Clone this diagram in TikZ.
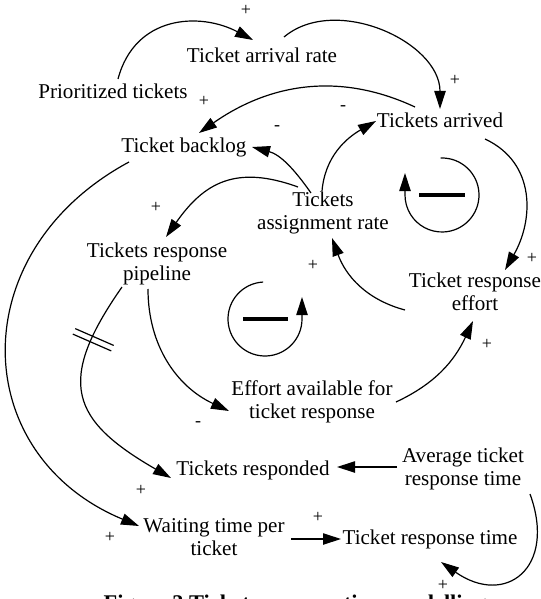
\documentclass[tikz,border=0pt]{standalone}
\usepackage{fontspec}
\setmainfont{Liberation Serif}
\usetikzlibrary{arrows.meta,decorations.markings}
\begin{document}
\begin{tikzpicture}[x=0.75pt,y=0.75pt,
  var/.style={font=\fontsize{15.8}{17.4}\selectfont, align=center, inner sep=0pt},
  sign/.style={font=\fontsize{13.5}{15}\selectfont, inner sep=0pt},
  link/.style={line width=0.9pt, -{Triangle[length=13.5pt,width=8.5pt]}},
  loopline/.style={line width=0.9pt},
  loopbar/.style={line width=2.4pt},
  caption/.style={font=\bfseries\fontsize{16.8}{20}\selectfont, anchor=base, inner sep=0pt}]
\useasboundingbox (0,0) rectangle (540,-599);

% variables
\node[var] (TAR)  at (262,-55)  {Ticket arrival rate};
\node[var] (PT)   at (113,-91)  {Prioritized tickets};
\node[var] (TA)   at (440,-120) {Tickets arrived};
\node[var] (TB)   at (184,-147) {Ticket backlog};
\node[var] (TAS)  at (323,-213) {Tickets\\assignment rate};
\node[var] (TRP)  at (157,-264) {Tickets response\\pipeline};
\node[var] (TRE)  at (475,-292) {Ticket response\\effort};
\node[var] (EA)   at (312,-402) {Effort available for\\ticket response};
\node[var] (TR)   at (253,-470) {Tickets responded};
\node[var] (ATRT) at (463,-469) {Average ticket\\response time};
\node[var] (WT)   at (214,-537) {Waiting time per\\ticket};
\node[var] (TRT)  at (430,-539) {Ticket response time};

% causal links
\draw[link] ([shift={(5,12)}]PT.center) .. controls (135,-15) and (200,-12) .. ([shift={(-9,15)}]TAR.center);
\draw[link] ([shift={(22,18)}]TAR.center) to[out=40,in=90] ([shift={(0,11)}]TA.center);
\draw[link] ([shift={(-25,13)}]TA.center) to[out=155,in=35] ([shift={(15,14)}]TB.center);
\draw[link] ([shift={(-12,20)}]TAS.center) to[out=125,in=-15] ([shift={(68,0)}]TB.center);
\draw[link] ([shift={(-1,22)}]TAS.center) to[out=85,in=210] ([shift={(-64,-1)}]TA.center);
\draw[link] ([shift={(45,-19)}]TA.center) to[out=-25,in=60,looseness=1.1] ([shift={(30,22)}]TRE.center);
\draw[link] ([shift={(-55,-15)}]TB.center) .. controls (-38,-252) and (-32,-455) .. ([shift={(-75,11)}]WT.center);
\draw[link] ([shift={(-25,26)}]TAS.center) to[out=160,in=55,looseness=1.2] ([shift={(9,27)}]TRP.center);
\draw[link] ([shift={(-70,-18)}]TRE.center) to[out=165,in=290] ([shift={(9,-25)}]TAS.center);
\draw[link] ([shift={(84,0)}]EA.center) to[out=25,in=245] ([shift={(-2,-29)}]TRE.center);
\draw[link] ([shift={(-9,-25)}]TRP.center) to[out=270,in=155] ([shift={(-83,-9)}]EA.center);
\draw[link, postaction={decorate},
  decoration={markings, mark=at position 0.25 with {\draw[-,line width=0.9pt] (-3,-19) -- (-3,23) (3,-19) -- (3,23);}}]
  ([shift={(-35,-23)}]TRP.center) to[out=235,in=150,looseness=1.5] ([shift={(-82,-8)}]TR.center);
\draw[link] ([shift={(-66,2)}]ATRT.center) -- ([shift={(84,3)}]TR.center);
\draw[link] ([shift={(67,-25)}]ATRT.center) to[out=-70,in=-35,looseness=1.8] ([shift={(11,-23)}]TRT.center);
\draw[link] ([shift={(77,-2)}]WT.center) -- ([shift={(-89,0)}]TRT.center);

% polarities
\node[sign] (s1)  at (246,-10)  {+};
\node[sign] (s2)  at (204,-101) {+};
\node[sign] (s3)  at (455,-80)  {+};
\node[sign] (s4)  at (343,-108) {-};
\node[sign] (s5)  at (277,-128) {-};
\node[sign] (s6)  at (156,-207) {+};
\node[sign] (s7)  at (313,-265) {+};
\node[sign] (s8)  at (532,-258) {+};
\node[sign] (s9)  at (487,-344) {+};
\node[sign] (s10) at (198,-424) {-};
\node[sign] (s11) at (141,-490) {+};
\node[sign] (s12) at (110,-537) {+};
\node[sign] (s13) at (318,-517) {+};
\node[sign] (s14) at (443,-585) {+};

% balancing loop markers
\draw[loopline, -{Triangle[length=13.5pt,width=8.5pt]}]
  (442,-195) ++(92:37) arc[start angle=92, end angle=-180, radius=37] -- ++(0,22);
\draw[loopbar] (419,-195) -- (465,-195);
\draw[loopline, -{Triangle[length=13.5pt,width=8.5pt]}]
  (265,-319) ++(93:37) arc[start angle=93, end angle=360, radius=37] -- ++(0,22);
\draw[loopbar] (243,-319) -- (288,-319);

% caption
\node[caption] (cap) at (295,-610) {Figure 3 Ticket response time modelling};
\end{tikzpicture}
\end{document}
